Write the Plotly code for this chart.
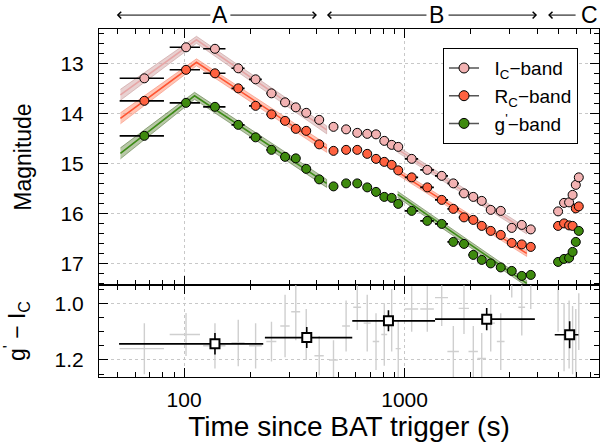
import numpy as np
import plotly.graph_objects as go
from plotly.subplots import make_subplots

# ---------------- data ----------------
t = [66, 102, 138, 176, 211, 249, 287, 321, 358, 410, 476, 543, 610, 677, 742, 809, 874, 936,
     1077, 1268, 1474, 1664, 1860, 2050, 2239, 2459, 2731, 3063, 3401, 3736,
     4970, 5290, 5576, 5783, 5980, 6170]
t_err = [15, 16, 16, 12, 14, 13, 14, 15, 15, 20, 22, 22, 25, 25, 25, 25, 25, 25,
         75, 90, 100, 100, 100, 100, 100, 110, 110, 110, 120, 120,
         20, 20, 20, 20, 20, 20]
mag_I = [13.30, 12.68, 12.71, 13.10, 13.32, 13.60, 13.78, 13.88, 13.99, 14.13, 14.27, 14.32,
         14.39, 14.41, 14.42, 14.55, 14.63, 14.67, 14.91, 15.13, 15.25, 15.40, 15.60, 15.67,
         15.75, 15.93, 15.95, 16.29, 16.23, 16.32, 15.96, 15.79, 15.78, 15.63, 15.43, 15.28]
mag_R = [13.75, 13.13, 13.20, 13.50, 13.85, 14.02, 14.15, 14.31, 14.35, 14.62, 14.75, 14.73,
         14.73, 14.81, 14.91, 14.97, 15.03, 15.14, 15.28, 15.48, 15.73, 15.91, 16.08, 16.13,
         16.25, 16.35, 16.43, 16.59, 16.62, 16.67, 16.25, 16.20, 16.24, 16.25, 15.90, 15.86]
mag_g = [14.45, 13.79, 13.87, 14.23, 14.48, 14.73, 14.87, 14.90, 15.11, 15.32, 15.46, 15.40,
         15.40, 15.48, 15.57, 15.67, 15.69, 15.81, 15.95, 16.15, 16.21, 16.57, 16.61, 16.83,
         16.93, 17.00, 17.08, 17.15, 17.25, 17.23, 16.97, 16.91, 16.89, 16.77, 16.57, 16.35]
mag_err = [0.02] * 12 + [0.03] * 6 + [0.04] * 12 + [0.04] * 6

col_gI = [1.16, 1.11, 1.15, 1.14, 1.15, 1.135, 1.08, 1.03, 1.11, 1.185, 1.20, 1.08,
          1.014, 1.07, 1.135, 1.11, 1.06, 1.16, 1.02, 1.02, 0.98, 1.17, 1.018, 1.17,
          1.195, 1.07, 1.135, 0.88, 1.014, 0.92, 1.00, 1.12, 1.11, 1.13, 1.14, 1.065]
col_err = [0.09, 0.076, 0.08, 0.082, 0.08, 0.07, 0.11, 0.10, 0.09, 0.07, 0.07, 0.09,
           0.08, 0.10, 0.10, 0.11, 0.11, 0.10, 0.08, 0.08, 0.10, 0.09, 0.09, 0.09,
           0.09, 0.10, 0.10, 0.10, 0.10, 0.10, 0.10, 0.12, 0.12, 0.12, 0.12, 0.10]

bin_t = [138, 360, 845, 2358, 5608]
bin_t_lo = [50.7, 232.5, 579, 1375, 4800]
bin_t_hi = [228.5, 579, 1375, 3900, 6150]
bin_col = [1.143, 1.121, 1.062, 1.056, 1.111]
bin_col_err = [0.038, 0.037, 0.037, 0.039, 0.048]

# model fits (knots of broken power laws) and their 1-sigma half widths
modelA_t = [51.4, 113.8, 443]
modelA_I = [13.63, 12.53, 14.33]
modelA_R = [14.10, 12.98, 14.70]
modelA_gt = [51.4, 111.5, 443]
modelA_g = [14.80, 13.65, 15.40]
modelA_hw = [0.11, 0.07, 0.08]
modelB_t = [930, 3580]
modelB_I = [14.72, 16.35]
modelB_R = [15.17, 16.80]
modelB_g = [15.62, 17.40]
modelB_hw = [0.06, 0.06]

# ---------------- styling ----------------
FONT = "Liberation Sans, Arial, Helvetica, sans-serif"
col_I, col_R, col_g = "#F2B2B2", "#FF6240", "#3E8A0E"
band_I = dict(fill="rgba(214,172,172,0.55)", edge="rgba(190,140,140,0.6)", line="#E6A6A6")
band_R = dict(fill="rgba(255,150,120,0.55)", edge="rgba(245,120,95,0.6)", line="#FF5533")
band_g = dict(fill="rgba(125,155,95,0.55)", edge="rgba(85,115,60,0.7)", line="#3D8B17")

fig = make_subplots(rows=2, cols=1, shared_xaxes=True, vertical_spacing=0,
                    row_heights=[0.736, 0.264])


def add_band(tt, mm, hw, st):
    up = [m - h for m, h in zip(mm, hw)]
    lo = [m + h for m, h in zip(mm, hw)]
    fig.add_trace(go.Scatter(x=list(tt) + list(tt)[::-1], y=up + lo[::-1], fill="toself",
                             fillcolor=st["fill"], line=dict(color=st["edge"], width=0.8),
                             mode="lines", showlegend=False, hoverinfo="skip"), row=1, col=1)
    fig.add_trace(go.Scatter(x=tt, y=mm, mode="lines", line=dict(color=st["line"], width=1.6),
                             showlegend=False, hoverinfo="skip"), row=1, col=1)


add_band(modelA_t, modelA_I, modelA_hw, band_I)
add_band(modelB_t, modelB_I, modelB_hw, band_I)
add_band(modelA_t, modelA_R, modelA_hw, band_R)
add_band(modelB_t, modelB_R, modelB_hw, band_R)
add_band(modelA_gt, modelA_g, modelA_hw, band_g)
add_band(modelB_t, modelB_g, modelB_hw, band_g)

for mags, c in [(mag_I, col_I), (mag_R, col_R), (mag_g, col_g)]:
    fig.add_trace(go.Scatter(
        x=t, y=mags, mode="markers",
        marker=dict(size=9, color=c, line=dict(color="black", width=1)),
        error_x=dict(type="data", array=t_err, color="black", thickness=1.6, width=0),
        error_y=dict(type="data", array=mag_err, color="black", thickness=1.6, width=0),
        showlegend=False), row=1, col=1)

# legend proxies
NB = "\u00a0\u00a0"
for name, c in [(NB + "I<sub>C</sub>\u2212band", col_I), (NB + "R<sub>C</sub>\u2212band", col_R),
                (NB + "g<sup>'</sup>\u2212band", col_g)]:
    fig.add_trace(go.Scatter(x=[None], y=[None], mode="lines+markers", name=name,
                             line=dict(color="#555555", width=1.5),
                             marker=dict(size=10, color=c, line=dict(color="black", width=1))),
                  row=1, col=1)

# colour panel
fig.add_trace(go.Scatter(
    x=t, y=col_gI, mode="markers", marker=dict(size=1, color="rgba(0,0,0,0)"),
    error_x=dict(type="data", array=t_err, color="#CFCFCF", thickness=1.4, width=0),
    error_y=dict(type="data", array=col_err, color="#CFCFCF", thickness=1.4, width=0),
    showlegend=False), row=2, col=1)
fig.add_trace(go.Scatter(
    x=bin_t, y=bin_col, mode="markers",
    marker=dict(symbol="square", size=9, color="white", line=dict(color="black", width=2)),
    error_x=dict(type="data", symmetric=False,
                 array=[h - c for h, c in zip(bin_t_hi, bin_t)],
                 arrayminus=[c - l for l, c in zip(bin_t_lo, bin_t)],
                 color="black", thickness=1.6, width=0),
    error_y=dict(type="data", array=bin_col_err, color="black", thickness=1.6, width=0),
    showlegend=False), row=2, col=1)

minor_x = [50, 60, 70, 80, 90, 200, 300, 400, 500, 600, 700, 800, 900,
           2000, 3000, 4000, 5000, 6000, 7000]
xcommon = dict(type="log", range=[np.log10(41.1), np.log10(7620)], automargin=False,
               tickmode="array", tickvals=[100, 1000], ticktext=["100", "1000"],
               ticks="inside", ticklen=9, tickwidth=1, tickcolor="black",
               showline=True, linecolor="black", linewidth=1, mirror="allticks",
               showgrid=True, gridcolor="#C8C8C8", griddash="dot", gridwidth=1,
               minor=dict(tickmode="array", tickvals=minor_x, ticks="inside", ticklen=5,
                          tickcolor="black", showgrid=False),
               zeroline=False, tickfont=dict(size=21, color="black", family=FONT),
               ticklabelstandoff=4)
fig.update_xaxes(**xcommon)
fig.update_xaxes(showticklabels=False, row=1, col=1)
fig.update_xaxes(title=dict(text="Time since BAT trigger (s)", font=dict(size=28, color="black", family=FONT),
                            standoff=4), row=2, col=1)

ycommon = dict(ticks="inside", ticklen=9, tickwidth=1, tickcolor="black", automargin=False,
               showline=True, linecolor="black", linewidth=1, mirror="allticks",
               showgrid=True, gridcolor="#C8C8C8", griddash="dot", gridwidth=1,
               zeroline=False, tickfont=dict(size=21, color="black", family=FONT),
               ticklabelstandoff=10)
fig.update_yaxes(**ycommon)
fig.update_yaxes(range=[17.434, 12.314], tickmode="array", tickvals=[13, 14, 15, 16, 17],
                 minor=dict(dtick=0.2, ticks="inside", ticklen=5, tickcolor="black", showgrid=False),
                 title=dict(text="Magnitude", font=dict(size=23, color="black", family=FONT), standoff=22),
                 row=1, col=1)
fig.update_yaxes(range=[1.26, 0.936], tickmode="array", tickvals=[1.0, 1.2], ticktext=["1.0", "1.2"],
                 minor=dict(dtick=0.05, ticks="inside", ticklen=5, tickcolor="black", showgrid=False),
                 title=dict(text="g<sup>'</sup> \u2212 I<sub>C</sub>", font=dict(size=23, color="black", family=FONT),
                            standoff=22),
                 row=2, col=1)

# phase annotations A / B / C
ann_y = 1.040
arrows = [(49.5, 133.6), (400.5, 159.6), (444.5, 1277), (3990, 1558), (4477, 6062)]
for head, tail in arrows:
    fig.add_annotation(x=np.log10(head), y=ann_y, xref="x", yref="paper",
                       ax=np.log10(tail), ay=0, axref="x", ayref="pixel",
                       text="", showarrow=True, arrowhead=4, arrowsize=1.3, arrowwidth=1,
                       arrowcolor="black")
for lab, tx in [("A", 145.2), ("B", 1398.6), ("C", 6900)]:
    fig.add_annotation(x=np.log10(tx), y=ann_y, xref="x", yref="paper", text=lab,
                       showarrow=False, font=dict(size=23, color="black", family=FONT),
                       yanchor="middle", borderpad=0)

fig.update_layout(
    width=600, height=446,
    margin=dict(l=99, r=1, t=29, b=69, autoexpand=False),
    paper_bgcolor="white", plot_bgcolor="white",
    font=dict(family=FONT, color="black"),
    showlegend=True,
    legend=dict(x=0.688, y=0.945, xanchor="left", yanchor="top",
                bgcolor="white", bordercolor="black", borderwidth=1,
                font=dict(size=19, color="black", family=FONT),
                tracegroupgap=0, itemwidth=30),
)

# remove the browser's default page margin so the figure sits at the window origin
fig.write_html("out.html", config={"displayModeBar": False},
               post_script="document.body.style.margin='0px';")
